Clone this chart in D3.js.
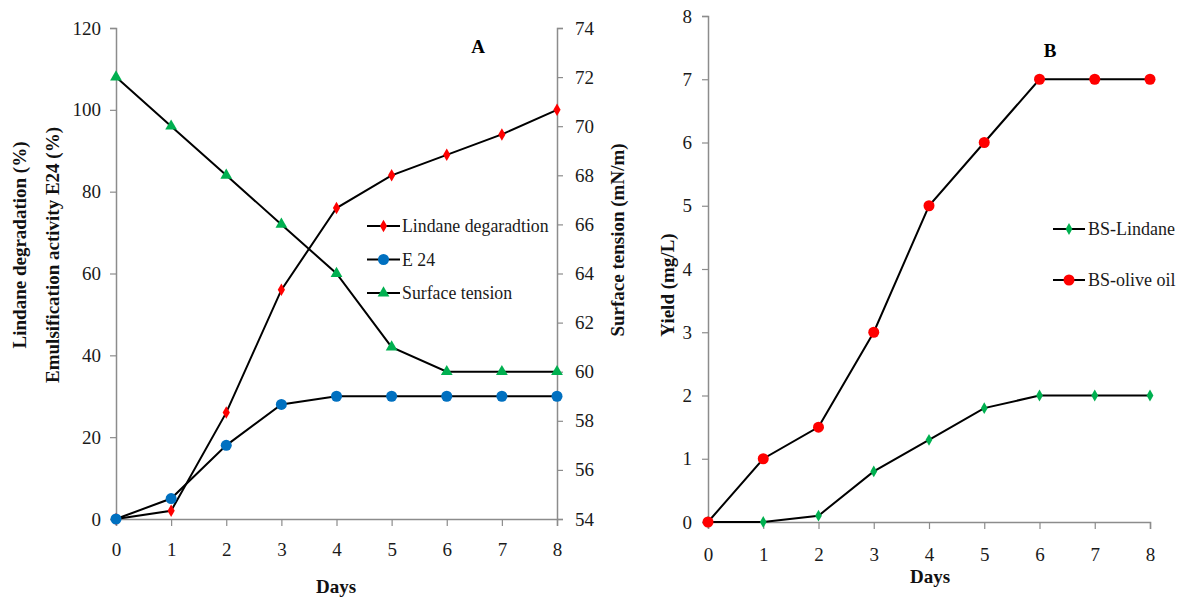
<!DOCTYPE html>
<html><head><meta charset="utf-8">
<script src="https://cdn.jsdelivr.net/npm/d3@7"></script>
<style>body{margin:0;background:#fff}svg{display:block}</style>
</head><body><svg id="c" width="1183" height="599" style="font-family:'Liberation Serif'"></svg>
<script>
const days = [0,1,2,3,4,5,6,7,8];
const lindaneDeg = [0,2,26,56,76,84,89,94,100];
const e24 = [0,5,18,28,30,30,30,30,30];
const surfaceTension = [72,70,68,66,64,61,60,60,60];
const bsLindane = [0,0,0.1,0.8,1.3,1.8,2,2,2];
const bsOlive = [0,1,1.5,3,5,6,7,7,7];
const leftTicksA = [0,20,40,60,80,100,120];
const rightTicksA = [54,56,58,60,62,64,66,68,70,72,74];
const yTicksB = [0,1,2,3,4,5,6,7,8];

const svg = d3.select("#c");
const axisCol = "#8c8c8c", txtCol = "#1a1a1a";
const RED="#ff0000", BLUE="#0070c0", GREEN="#00b050";
const FS = "19px";
const FF = "'Liberation Serif'";

function styleAxis(g){
  g.attr("font-family",null).attr("font-size",null);
  g.selectAll(".domain").attr("stroke",axisCol).attr("stroke-width",1.5);
  g.selectAll(".tick line").attr("stroke",axisCol).attr("stroke-width",1.2);
  g.selectAll(".tick text").attr("fill",txtCol).attr("style",`font-family:${FF};font-size:${FS}`);
}
function marker(g, type, x, y, color, size){
  if(type==="circle") g.append("circle").attr("cx",x).attr("cy",y).attr("r",size).attr("fill",color);
  else {
    const sym = type==="diamond"? d3.symbolDiamond : d3.symbolTriangle;
    g.append("path").attr("d", d3.symbol(sym, size)()).attr("transform",`translate(${x},${y})`).attr("fill",color);
  }
}
function title(x,y,rot,t){
  svg.append("text").attr("transform",`translate(${x},${y})`+(rot?" rotate(-90)":"")).attr("text-anchor","middle")
    .text(t).attr("style",`font-family:${FF};font-size:${FS};font-weight:bold`).attr("fill","#111");
}
function label(x,y,t,fs){
  svg.append("text").attr("x",x).attr("y",y).text(t).attr("style",`font-family:${FF};font-size:${fs}`).attr("fill",txtCol);
}

// ---------- Panel A ----------
const xA = d3.scaleLinear().domain([0,8]).range([116,557]);
const yA = d3.scaleLinear().domain([0,120]).range([519,28]);
const yA2 = d3.scaleLinear().domain([54,74]).range([519,28]);

svg.append("g").attr("transform","translate(0,519)")
  .call(d3.axisBottom(xA).tickValues(days).tickSize(7).tickPadding(17).tickFormat(d3.format("d"))).call(styleAxis);
svg.append("g").attr("transform","translate(116,0)")
  .call(d3.axisLeft(yA).tickValues(leftTicksA).tickSize(6).tickPadding(9)).call(styleAxis);
svg.append("g").attr("transform","translate(557,0)")
  .call(d3.axisRight(yA2).tickValues(rightTicksA).tickSize(6).tickPadding(12)).call(styleAxis);

const lineA = d3.line().x((d,i)=>xA(days[i])).y(d=>yA(d));
const lineA2 = d3.line().x((d,i)=>xA(days[i])).y(d=>yA2(d));
svg.append("path").attr("d",lineA(lindaneDeg)).attr("fill","none").attr("stroke","#000").attr("stroke-width",2);
svg.append("path").attr("d",lineA(e24)).attr("fill","none").attr("stroke","#000").attr("stroke-width",2);
svg.append("path").attr("d",lineA2(surfaceTension)).attr("fill","none").attr("stroke","#000").attr("stroke-width",2);
const mA = svg.append("g");
lindaneDeg.forEach((v,i)=>marker(mA,"diamond",xA(days[i]),yA(v),RED,45));
e24.forEach((v,i)=>marker(mA,"circle",xA(days[i]),yA(v),BLUE,5.5));
surfaceTension.forEach((v,i)=>marker(mA,"triangle",xA(days[i]),yA2(v),GREEN,60));

// legend A
const legA = [["Lindane degaradtion","diamond",RED,45],["E 24","circle",BLUE,5.5],["Surface tension","triangle",GREEN,60]];
legA.forEach((l,i)=>{
  const y = 226 + i*33.5;
  svg.append("line").attr("x1",367).attr("x2",400).attr("y1",y).attr("y2",y).attr("stroke","#000").attr("stroke-width",2);
  marker(svg,l[1],383.5,y,l[2],l[3]);
  label(402,y+6,l[0],"17.8px");
});
svg.append("text").attr("x",478).attr("y",53).attr("text-anchor","middle").text("A").attr("style",`font-family:${FF};font-size:${FS};font-weight:bold`);
title(336,593,false,"Days");
title(26,245,true,"Lindane degradation (%)");
title(59,255,true,"Emulsification activity E24 (%)");
title(624,240,true,"Surface tension (mN/m)");

// ---------- Panel B ----------
const xB = d3.scaleLinear().domain([0,8]).range([708,1150]);
const yB = d3.scaleLinear().domain([0,8]).range([522,16]);
svg.append("g").attr("transform","translate(0,522)")
  .call(d3.axisBottom(xB).tickValues(days).tickSize(7).tickPadding(19).tickFormat(d3.format("d"))).call(styleAxis);
svg.append("g").attr("transform","translate(708,0)")
  .call(d3.axisLeft(yB).tickValues(yTicksB).tickSize(6).tickPadding(10)).call(styleAxis);
const lineB = d3.line().x((d,i)=>xB(days[i])).y(d=>yB(d));
svg.append("path").attr("d",lineB(bsLindane)).attr("fill","none").attr("stroke","#000").attr("stroke-width",2);
svg.append("path").attr("d",lineB(bsOlive)).attr("fill","none").attr("stroke","#000").attr("stroke-width",2);
const mB = svg.append("g");
bsLindane.forEach((v,i)=>marker(mB,"diamond",xB(days[i]),yB(v),GREEN,40));
bsOlive.forEach((v,i)=>marker(mB,"circle",xB(days[i]),yB(v),RED,5.5));
const legB = [["BS-Lindane","diamond",GREEN,40],["BS-olive oil","circle",RED,5.5]];
legB.forEach((l,i)=>{
  const y = 229 + i*51;
  svg.append("line").attr("x1",1053).attr("x2",1085).attr("y1",y).attr("y2",y).attr("stroke","#000").attr("stroke-width",2);
  marker(svg,l[1],1069,y,l[2],l[3]);
  label(1088,y+6,l[0],"18px");
});
svg.append("text").attr("x",1050).attr("y",57).attr("text-anchor","middle").text("B").attr("style",`font-family:${FF};font-size:${FS};font-weight:bold`);
title(930,583,false,"Days");
title(674,285,true,"Yield (mg/L)");
</script></body></html>
